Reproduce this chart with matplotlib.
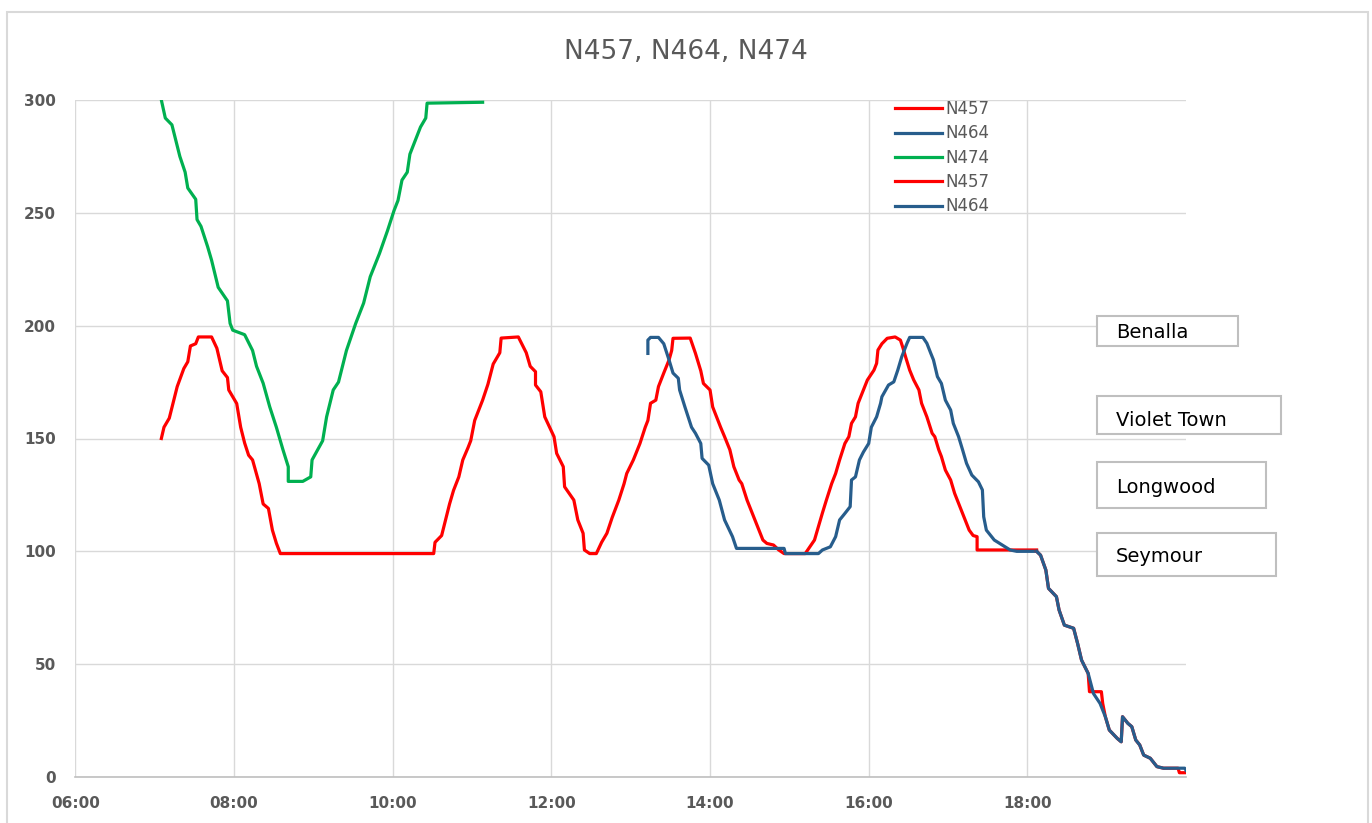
import numpy as np
import matplotlib
matplotlib.use("Agg")
from matplotlib import pyplot as plt
from matplotlib.patches import Rectangle


"""
Data (read off the chart)
"""
n457_a_t = ["07:05", "07:07", "07:11", "07:14", "07:17", "07:22", "07:25", "07:27", "07:31", "07:33",
            "07:43", "07:47", "07:51", "07:55", "07:56", "08:02", "08:05", "08:08", "08:11", "08:14",
            "08:19", "08:22", "08:26", "08:29", "08:32", "08:35", "10:31", "10:32", "10:37", "10:40",
            "10:43", "10:46", "10:50", "10:53", "10:57", "10:59", "11:02", "11:08", "11:12", "11:16",
            "11:21", "11:22", "11:35", "11:41", "11:44", "11:48", "11:48", "11:52", "11:55", "12:02",
            "12:04", "12:09", "12:10", "12:17", "12:20", "12:24", "12:25", "12:29", "12:34", "12:38",
            "12:42", "12:46", "12:51", "12:55", "12:57", "13:02", "13:07", "13:11", "13:13", "13:15",
            "13:19", "13:21", "13:25", "13:29", "13:31", "13:32", "13:45", "13:49", "13:53", "13:55",
            "14:00", "14:02", "14:08", "14:11", "14:15", "14:18", "14:22", "14:24", "14:28", "14:32",
            "14:35", "14:40", "14:43", "14:48", "14:52", "14:56", "15:12", "15:19", "15:22", "15:25",
            "15:28", "15:32", "15:35", "15:38", "15:42", "15:45", "15:47", "15:50", "15:52", "15:55",
            "15:59", "16:04", "16:06", "16:07", "16:10", "16:14", "16:20", "16:24", "16:26", "16:28",
            "16:31", "16:34", "16:38", "16:40", "16:44", "16:48", "16:50", "16:53", "16:55", "16:58",
            "17:02", "17:05", "17:09", "17:13", "17:16", "17:19", "17:22", "17:22", "18:07"]
n457_a_v = [150, 155, 159, 166, 173, 181, 184, 191, 192, 195,
            195, 190, 180, 177, 171.5, 165.5, 155, 148, 142.6, 140.5,
            130, 121, 119, 109.4, 103.6, 99, 99, 104, 107, 114,
            121, 127, 133, 140.5, 146, 149, 158, 167, 174, 183,
            188, 194.5, 195, 188, 182, 179.6, 173.7, 170.7, 159.6, 150.8,
            143.4, 137.5, 128.6, 122.7, 113.9, 108, 100.6, 99, 99, 104,
            108, 115, 122.7, 130, 134.5, 140.5, 147.8, 155, 158, 165.6,
            167, 173, 179, 184.8, 189, 194.4, 194.5, 187.7, 180, 174.4,
            171.5, 164, 155, 150.8, 145, 137.5, 131.6, 130, 122.7, 116.8,
            112.4, 105, 103.5, 102.8, 100.6, 99, 99, 105, 111, 117,
            122.7, 130, 134.5, 140.5, 147.8, 150.8, 156.7, 159.6, 165.6, 170,
            175.9, 180.3, 183.3, 189.2, 192, 194.4, 195, 193.6, 190, 186,
            180.3, 176, 171.5, 165.6, 159.6, 152.3, 150.8, 145, 142, 136,
            131.6, 125.7, 119.8, 113.9, 109.4, 107, 106.5, 100.6, 100.6]

n464_a_t = ["13:13", "13:13", "13:15", "13:21", "13:25", "13:29", "13:32", "13:36", "13:37", "13:41",
            "13:46", "13:49", "13:53", "13:54", "13:59", "14:02", "14:07", "14:11", "14:17", "14:20",
            "14:56", "14:57", "15:22", "15:25", "15:31", "15:35", "15:38", "15:42", "15:46", "15:47",
            "15:50", "15:53", "15:56", "16:00", "16:02", "16:06", "16:09", "16:10", "16:15", "16:19",
            "16:22", "16:25", "16:29", "16:31", "16:41", "16:44", "16:47", "16:49", "16:52", "16:55",
            "16:58", "17:02", "17:04", "17:08", "17:11", "17:14", "17:18", "17:23", "17:26", "17:27",
            "17:29", "17:35", "17:41", "17:47", "17:52", "18:07"]
n464_a_v = [187.7, 193.6, 194.8, 194.8, 192, 184.8, 179, 176.7, 171.5, 164,
            155, 152.3, 147.8, 141.2, 138.2, 130, 122.7, 113.9, 106.5, 101.3,
            101.3, 99, 99, 100.6, 102, 106.5, 113.9, 116.8, 119.8, 131.6,
            133, 140.5, 144, 147.8, 155, 159.6, 165.6, 168.5, 173.7, 175.1,
            180.3, 186.2, 192.2, 194.8, 194.8, 192.2, 187.7, 184.8, 177.4, 174.4,
            167, 162.6, 156.7, 150.8, 145, 139, 133.8, 130.8, 127.2, 115.3,
            109.4, 105, 102.8, 100.6, 100, 100]

n474_t = ["07:05", "07:08", "07:13", "07:16", "07:19", "07:23", "07:25", "07:31", "07:32", "07:35",
          "07:40", "07:43", "07:48", "07:55", "07:57", "07:59", "08:08", "08:14", "08:17", "08:22",
          "08:27", "08:32", "08:37", "08:41", "08:41", "08:52", "08:58", "08:59", "09:07", "09:10",
          "09:15", "09:19", "09:25", "09:32", "09:38", "09:43", "09:50", "09:56", "10:01", "10:04",
          "10:07", "10:11", "10:13", "10:17", "10:21", "10:25", "10:26", "11:08"]
n474_v = [300, 292, 289, 282, 275, 268, 261, 256, 247, 244,
          235, 229, 217, 211, 201, 198, 196, 189, 182, 174.5,
          164, 155, 145, 137.5, 131, 131, 133, 140.5, 149, 159.6,
          171.5, 175, 189, 201, 210, 221.7, 232, 242, 251, 255.5,
          264.5, 268, 276, 282, 288, 292, 298.6, 299]

n457_b_t = ["18:07", "18:10", "18:14", "18:16", "18:22", "18:24", "18:28", "18:35", "18:38", "18:41",
            "18:46", "18:47", "18:56", "18:57", "18:59", "19:02", "19:08", "19:11", "19:12", "19:16",
            "19:19", "19:22", "19:25", "19:28", "19:33", "19:38", "19:43", "19:54", "19:55", "20:00"]
n457_b_v = [100, 98.3, 91.7, 83.6, 79.9, 74, 67.3, 65.9, 59.2, 51.8,
            45.9, 37.8, 37.8, 32.6, 26.7, 20.8, 17.1, 15.6, 26.7, 23.8,
            22.3, 16.4, 14.2, 9.7, 8.3, 4.6, 3.9, 3.9, 1.9, 1.9]

n464_b_t = ["18:07", "18:10", "18:14", "18:16", "18:22", "18:24", "18:28", "18:35", "18:38", "18:41",
            "18:46", "18:50", "18:55", "18:59", "19:02", "19:08", "19:11", "19:12", "19:16", "19:19",
            "19:22", "19:25", "19:28", "19:33", "19:38", "19:43", "19:59", "20:00"]
n464_b_v = [100, 98.3, 91.7, 83.6, 79.9, 74, 67.3, 65.9, 59.2, 51.8,
            45.9, 37, 32.6, 26.7, 20.8, 17.1, 15.6, 26.7, 23.8, 22.3,
            16.4, 14.2, 9.7, 8.3, 4.6, 3.9, 3.9, 3]

x_ticks = [6, 8, 10, 12, 14, 16, 18]
x_tick_labels = ["06:00", "08:00", "10:00", "12:00", "14:00", "16:00", "18:00"]
y_ticks = [0, 50, 100, 150, 200, 250, 300]
stations = ["Benalla", "Violet Town", "Longwood", "Seymour"]


def to_hours(times):
    return [int(s[:2]) + int(s[3:]) / 60 for s in times]


"""
Plot
"""
RED = "#ff0000"
BLUE = "#275d8c"
GREEN = "#00b050"
GREY_TXT = "#595959"

W, H = 1372, 823
fig = plt.figure(figsize=(W / 100, H / 100), dpi=100)
ax = fig.add_axes([75.4 / W, 1 - 777 / H, (1186 - 75.4) / W, (777 - 100) / H])

lw = 2.3
ax.plot(to_hours(n457_a_t), n457_a_v, color=RED, lw=lw, label="N457")
ax.plot(to_hours(n464_a_t), n464_a_v, color=BLUE, lw=lw, label="N464")
ax.plot(to_hours(n474_t), n474_v, color=GREEN, lw=lw, label="N474")
ax.plot(to_hours(n457_b_t), n457_b_v, color=RED, lw=lw, label="N457")
ax.plot(to_hours(n464_b_t), n464_b_v, color=BLUE, lw=lw, label="N464")

ax.set_xlim(6, 20)
ax.set_ylim(0, 300)
ax.set_xticks(x_ticks)
ax.set_xticklabels(x_tick_labels)
ax.set_yticks(y_ticks)
ax.tick_params(length=0, labelsize=11, labelcolor=GREY_TXT)
ax.tick_params(axis="y", pad=14)
ax.tick_params(axis="x", pad=14)
for lab in ax.get_xticklabels() + ax.get_yticklabels():
    lab.set_fontweight("bold")
ax.grid(color="#d9d9d9", lw=1)
ax.set_axisbelow(True)
for s in ["top", "right", "left"]:
    ax.spines[s].set_visible(False)
ax.spines["bottom"].set_color("#bfbfbf")
ax.spines["bottom"].set_linewidth(1.2)

leg = ax.legend(loc="upper left", bbox_to_anchor=((895 - 75.4) / 1110.6, 1.0), frameon=False,
                fontsize=12, borderpad=0, borderaxespad=0, handlelength=2.8,
                handletextpad=0.25, labelspacing=0.38)
for t in leg.get_texts():
    t.set_color(GREY_TXT)

fig.text(686 / W, 1 - 52 / H, "N457, N464, N474", ha="center", va="center",
         fontsize=19, color=GREY_TXT)

# outer chart border
fig.patches.append(Rectangle((7 / W, -0.05), (1368 - 7) / W, 1.05 - 12 / H, transform=fig.transFigure,
                             fill=False, edgecolor="#d9d9d9", lw=1.5, clip_on=False))

# connector lines to the station boxes
for yv in [200, 100]:
    ax.plot([1.0, (1097 - 75.4) / 1110.6], [yv, yv], color="#d9d9d9", lw=1,
            transform=ax.get_yaxis_transform(), clip_on=False)

# station boxes (px: left, top, right, bottom, text centre y)
boxes = [(1097, 316, 1238, 346, 332), (1097, 396, 1281, 434, 420),
         (1097, 462, 1266, 508, 487), (1097, 533, 1276, 576, 557)]
for name, (l, t, r, b, ty) in zip(stations, boxes):
    fig.patches.append(Rectangle((l / W, 1 - b / H), (r - l) / W, (b - t) / H, transform=fig.transFigure,
                                 fill=True, facecolor="white", edgecolor="#bfbfbf", lw=1.5))
    fig.text((l + 19) / W, 1 - ty / H, name, ha="left", va="center", fontsize=14, color="#000000")

fig.savefig("out.png", dpi=100)
